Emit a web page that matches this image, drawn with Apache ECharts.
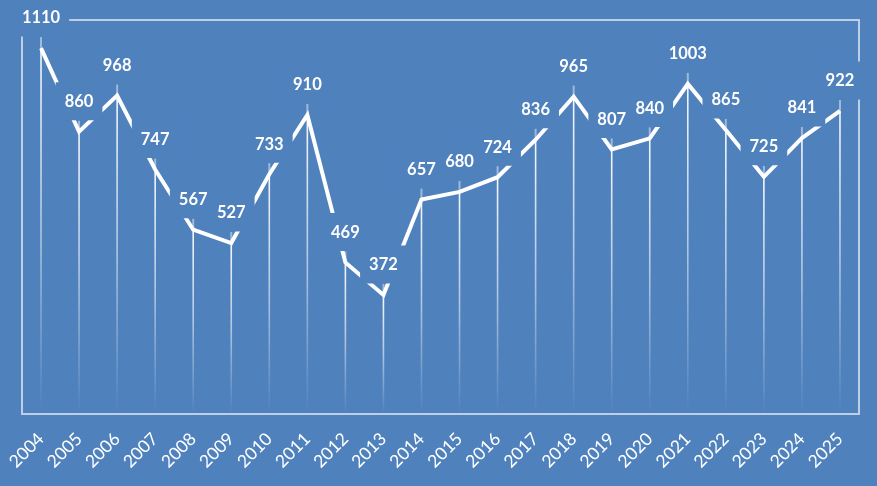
<!DOCTYPE html>
<html>
	<head>
		<meta charset="utf-8" />
		<title>Yearly values 2004-2025</title>
		<script src="https://cdn.jsdelivr.net/npm/echarts@6/dist/echarts.min.js"></script>
		<style>
			* {
				margin: 0;
				padding: 0;
				box-sizing: border-box;
			}
			body {
				background: #4f81bd;
			}
		</style>
	</head>
	<body>
		<div id="main" style="width: 877px; height: 486px"></div>
		<script>
			// data
			var years = ['2004', '2005', '2006', '2007', '2008', '2009', '2010', '2011', '2012', '2013', '2014',
				'2015', '2016', '2017', '2018', '2019', '2020', '2021', '2022', '2023', '2024', '2025'];
			var values = [1110, 860, 968, 747, 567, 527, 733, 910, 469, 372, 657,
				680, 724, 836, 965, 807, 840, 1003, 865, 725, 841, 922];
			var yMin = 16;
			var yMax = 1194;

			var bg = '#4f81bd';
			var myChart = echarts.init(document.getElementById('main'));

			var option = {
				backgroundColor: bg,
				animation: false,
				grid: {
					left: 22,
					right: 18,
					top: 20,
					bottom: 72,
					show: true,
					borderColor: 'rgba(255,255,255,0.62)',
					borderWidth: 2,
					backgroundColor: 'transparent',
				},
				xAxis: {
					type: 'category',
					data: years,
					boundaryGap: true,
					axisLine: {show: false},
					axisTick: {show: false},
					splitLine: {show: false},
					axisLabel: {
						rotate: 45,
						margin: 22,
						color: '#ffffff',
						fontSize: 17.5,
						fontFamily: 'Lato',
					},
				},
				yAxis: {
					type: 'value',
					min: yMin,
					max: yMax,
					show: false,
					splitLine: {show: false},
				},
				series: [
					{
						// drop lines from each point to the frame bottom
						type: 'custom',
						z: 1,
						silent: true,
						data: values.map(function (v, i) {
							return [i, v];
						}),
						renderItem: function (params, api) {
							var p = api.coord([api.value(0), api.value(1)]);
							var bottom = params.coordSys.y + params.coordSys.height;
							return {
								type: 'group',
								children: [
									{
										type: 'line',
										shape: {x1: p[0], y1: p[1] - 11, x2: p[0], y2: p[1]},
										style: {stroke: 'rgba(255,255,255,0.45)', lineWidth: 2},
									},
									{
										type: 'line',
										shape: {x1: p[0], y1: p[1], x2: p[0], y2: bottom},
										style: {
											lineWidth: 1.6,
											stroke: {
												type: 'linear',
												x: p[0],
												y: p[1],
												x2: p[0],
												y2: bottom,
												global: true,
												colorStops: [
													{offset: 0, color: 'rgba(255,255,255,0.95)'},
													{offset: 0.5, color: 'rgba(255,255,255,0.55)'},
													{offset: 1, color: 'rgba(255,255,255,0)'},
												],
											},
										},
									},
								],
							};
						},
					},
					{
						type: 'line',
						z: 2,
						data: values,
						symbol: 'circle',
						symbolSize: 1,
						itemStyle: {color: 'rgba(0,0,0,0)'},
						lineStyle: {color: '#ffffff', width: 4, join: 'miter', miterLimit: 10},
						label: {
							show: true,
							position: 'top',
							distance: 11,
							color: '#ffffff',
							fontSize: 16.5,
							fontWeight: 'bold',
							fontFamily: 'Lato',
							backgroundColor: bg,
							padding: [11, 9, 10, 9],
						},
					},
				],
			};

			option && myChart.setOption(option);
		</script>
	</body>
</html>
